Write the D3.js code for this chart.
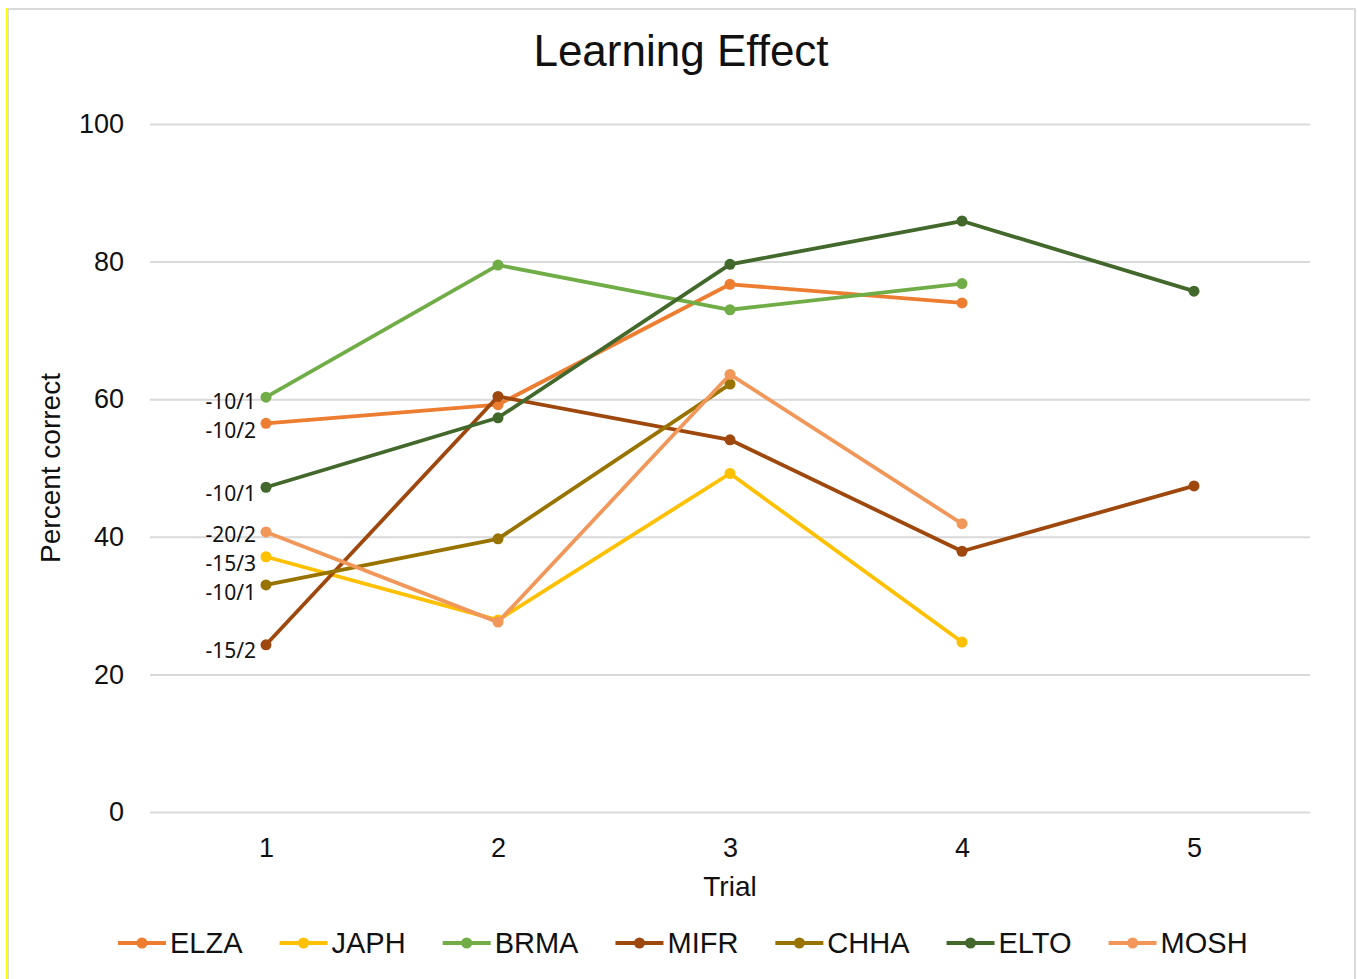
<!DOCTYPE html>
<html>
<head>
<meta charset="utf-8">
<script src="https://cdn.jsdelivr.net/npm/d3@7"></script>
<style>
  body { margin: 0; background: #fff; }
  svg { display: block; }
</style>
</head>
<body>
<div id="chart"></div>
<script>
// data
const trials = [1, 2, 3, 4, 5];
const names = ["ELZA", "JAPH", "BRMA", "MIFR", "CHHA", "ELTO", "MOSH"];
const elza = [56.5, 59.2, 76.7, 74.0];
const japh = [37.1, 27.9, 49.2, 24.7];
const brma = [60.3, 79.5, 73.0, 76.8];
const mifr = [24.3, 60.4, 54.1, 37.9, 47.4];
const chha = [33.0, 39.7, 62.2];
const elto = [47.2, 57.3, 79.6, 85.9, 75.7];
const mosh = [40.7, 27.6, 63.6, 41.9];
const firstLabels = ["-10/2", "-15/3", "-10/1", "-15/2", "-10/1", "-10/1", "-20/2"];
const yTicks = [0, 20, 40, 60, 80, 100];
const colors = ["#ED7D31", "#FFC000", "#70AD47", "#9E480E", "#997300", "#43682B", "#F1975A"];

const series = [elza, japh, brma, mifr, chha, elto, mosh].map((vals, i) => ({
  name: names[i],
  color: colors[i],
  label: firstLabels[i],
  points: vals.map((v, j) => ({ trial: trials[j], value: v }))
}));

const W = 1357, H = 979;
const margin = { top: 124, right: 47, bottom: 167, left: 150 };
const width = W - margin.left - margin.right;
const height = H - margin.top - margin.bottom;
const font = "'Liberation Sans', Arial, sans-serif";

const svg = d3.select("#chart")
  .append("svg")
  .attr("width", W)
  .attr("height", H);

// frame
svg.append("rect")
  .attr("x", 8).attr("y", 9)
  .attr("width", 1347).attr("height", 975)
  .attr("fill", "#fff")
  .attr("stroke", "#d9d9d9")
  .attr("stroke-width", 2);
svg.append("line")
  .attr("x1", 7).attr("x2", 7)
  .attr("y1", 8).attr("y2", H)
  .attr("stroke", "#ffff00")
  .attr("stroke-width", 2);

const g = svg.append("g")
  .attr("transform", `translate(${margin.left},${margin.top})`);

// scales
const x = d3.scalePoint()
  .domain(trials)
  .range([0, width])
  .padding(0.5);

const y = d3.scaleLinear()
  .domain([0, 100])
  .range([height, 0]);

// gridlines + y axis
const yAxis = g.append("g")
  .call(d3.axisLeft(y).tickValues(yTicks).tickSize(-width).tickPadding(26));
yAxis.select(".domain").remove();
yAxis.selectAll("line").attr("stroke", "#d9d9d9").attr("stroke-width", 2);
yAxis.selectAll("text")
  .style("font-family", font)
  .style("font-size", "27px")
  .attr("fill", "#111");

// x axis
const xAxis = g.append("g")
  .attr("transform", `translate(0,${height})`)
  .call(d3.axisBottom(x).tickSize(0).tickPadding(26));
xAxis.select(".domain").remove();
xAxis.selectAll("text")
  .style("font-family", font)
  .style("font-size", "27px")
  .attr("fill", "#111");

// title and axis titles
svg.append("text")
  .attr("x", 681).attr("y", 66)
  .attr("text-anchor", "middle")
  .style("font-family", font)
  .style("font-size", "44px")
  .attr("fill", "#111")
  .text("Learning Effect");

svg.append("text")
  .attr("x", margin.left + x(3)).attr("y", 896)
  .attr("text-anchor", "middle")
  .style("font-family", font)
  .style("font-size", "28px")
  .attr("fill", "#111")
  .text("Trial");

svg.append("text")
  .attr("transform", "rotate(-90)")
  .attr("x", -468).attr("y", 60)
  .attr("text-anchor", "middle")
  .style("font-family", font)
  .style("font-size", "28px")
  .attr("fill", "#111")
  .text("Percent correct");

// lines
const line = d3.line()
  .x(d => x(d.trial))
  .y(d => y(d.value));

const sg = g.selectAll(".series")
  .data(series)
  .enter()
  .append("g")
  .attr("class", "series");

sg.append("path")
  .attr("d", d => line(d.points))
  .attr("fill", "none")
  .attr("stroke", d => d.color)
  .attr("stroke-width", 3.8)
  .attr("stroke-linejoin", "round");

sg.selectAll("circle")
  .data(d => d.points.map(p => ({ ...p, color: d.color })))
  .enter()
  .append("circle")
  .attr("cx", d => x(d.trial))
  .attr("cy", d => y(d.value))
  .attr("r", 5.5)
  .attr("fill", d => d.color);

// labels on first point, nudged apart so they don't collide
const labs = series.map(s => ({ text: s.label, ly: y(s.points[0].value) + 6, px: x(s.points[0].trial) }))
  .sort((a, b) => a.ly - b.ly);
const minGap = 29;
for (let k = 0; k < 30; k++) {
  for (let i = 1; i < labs.length; i++) {
    const gap = labs[i].ly - labs[i - 1].ly;
    if (gap < minGap) {
      const push = (minGap - gap) / 2;
      labs[i - 1].ly -= push;
      labs[i].ly += push;
    }
  }
}

g.selectAll(".plabel")
  .data(labs)
  .enter()
  .append("text")
  .attr("class", "plabel")
  .attr("x", d => d.px - 10)
  .attr("y", d => d.ly)
  .attr("dy", "0.35em")
  .attr("text-anchor", "end")
  .style("font-family", "'Noto Sans', sans-serif")
  .style("font-size", "21px")
  .attr("fill", "#111")
  .text(d => d.text);

// legend
const legend = svg.append("g").attr("transform", "translate(0,943)");
let lx = 118;
series.forEach(s => {
  const it = legend.append("g").attr("transform", `translate(${lx},0)`);
  it.append("line")
    .attr("x1", 0).attr("x2", 48)
    .attr("stroke", s.color).attr("stroke-width", 3.8);
  it.append("circle")
    .attr("cx", 24).attr("r", 5.5).attr("fill", s.color);
  const t = it.append("text")
    .attr("x", 52).attr("dy", "0.35em")
    .style("font-family", font)
    .style("font-size", "29px")
    .attr("fill", "#111")
    .text(s.name);
  lx += 52 + t.node().getComputedTextLength() + 37;
});
</script>
</body>
</html>
